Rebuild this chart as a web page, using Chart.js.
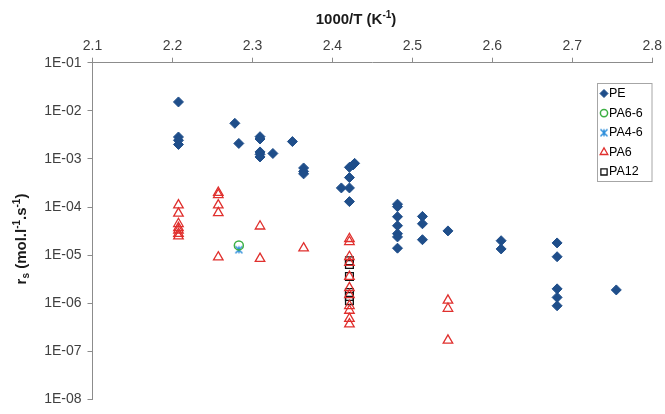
<!DOCTYPE html>
<html lang="en">
<head>
<meta charset="UTF-8">
<title>rs vs 1000/T</title>
<script src="https://cdn.jsdelivr.net/npm/chart.js"></script>
<style>
    html, body { margin: 0; padding: 0; background: #fff; }
    #wrap { width: 665px; height: 414px; }
</style>
</head>
<body>
<div id="wrap"><canvas id="chart"></canvas></div>
<script>
    // tick values
    const xTicks = [2.1, 2.2, 2.3, 2.4, 2.5, 2.6, 2.7, 2.8];
    const yTicks = [1e-1, 1e-2, 1e-3, 1e-4, 1e-5, 1e-6, 1e-7, 1e-8];

    const seriesNames = ['PE', 'PA6-6', 'PA4-6', 'PA6', 'PA12'];

    // PE
    const peX = [2.2075, 2.2075, 2.2075, 2.2075, 2.278, 2.283,
                 2.3095, 2.3095, 2.3095, 2.3095, 2.3095, 2.3256, 2.35,
                 2.364, 2.364, 2.364,
                 2.4213, 2.4213, 2.4213, 2.4213, 2.4112, 2.4257, 2.4278,
                 2.4814, 2.4814, 2.4814, 2.4814, 2.4814, 2.4814, 2.4814,
                 2.5126, 2.5126, 2.5126, 2.5445,
                 2.611, 2.611,
                 2.681, 2.681, 2.681, 2.681, 2.681, 2.755];
    const peY = [1.53e-2, 2.86e-3, 2.44e-3, 2.0e-3, 5.5e-3, 2.1e-3,
                 2.9e-3, 2.6e-3, 1.4e-3, 1.25e-3, 1.1e-3, 1.3e-3, 2.3e-3,
                 6.5e-4, 5.5e-4, 4.9e-4,
                 6.7e-4, 4.1e-4, 2.5e-4, 1.3e-4, 2.5e-4, 7.5e-4, 8.1e-4,
                 1.15e-4, 1.02e-4, 6.3e-5, 4.1e-5, 2.8e-5, 2.4e-5, 1.4e-5,
                 6.4e-5, 4.5e-5, 2.1e-5, 3.2e-5,
                 2.0e-5, 1.35e-5,
                 1.8e-5, 9.3e-6, 2.0e-6, 1.33e-6, 8.9e-7, 1.9e-6];

    // PA6-6 and PA4-6
    const pa66X = [2.283];
    const pa66Y = [1.6e-5];
    const pa46X = [2.283];
    const pa46Y = [1.3e-5];

    // PA6
    const pa6X = [2.2075, 2.2075, 2.2075, 2.2075, 2.2075, 2.2075, 2.2075,
                  2.2573, 2.2573, 2.2573, 2.2573, 2.2573,
                  2.3095, 2.3095, 2.364,
                  2.4213, 2.4213, 2.4213, 2.4213, 2.4213, 2.4213, 2.4213, 2.4213, 2.4213, 2.4213, 2.4213,
                  2.5445, 2.5445, 2.5445];
    const pa6Y = [1.1e-4, 7.4e-5, 4.5e-5, 3.7e-5, 3.3e-5, 2.8e-5, 2.5e-5,
                  2.0e-4, 1.8e-4, 1.1e-4, 7.6e-5, 9.1e-6,
                  4.0e-5, 8.5e-6, 1.4e-5,
                  2.2e-5, 1.9e-5, 9.3e-6, 7.0e-6, 3.6e-6, 2.1e-6, 1.5e-6, 8.9e-7, 7.1e-7, 4.8e-7, 3.7e-7,
                  1.15e-6, 7.8e-7, 1.7e-7];

    // PA12
    const pa12X = [2.4213, 2.4213, 2.4213, 2.4213, 2.4213, 2.4213];
    const pa12Y = [7.7e-6, 6.4e-6, 3.6e-6, 1.68e-6, 1.39e-6, 1.14e-6];

    const FONT = '"Liberation Sans", Arial, sans-serif';

    function pts(xs, ys) {
        return xs.map((x, i) => ({ x: x, y: ys[i] }));
    }

    // Excel-like star marker: an x with a vertical stroke
    function starMarker(color, size) {
        const c = document.createElement('canvas');
        c.width = size;
        c.height = size;
        const g = c.getContext('2d');
        g.strokeStyle = color;
        g.lineWidth = 1.5;
        const m = 1.5, e = size - 1.5, h = size / 2;
        g.beginPath();
        g.moveTo(m, m); g.lineTo(e, e);
        g.moveTo(e, m); g.lineTo(m, e);
        g.moveTo(h, m); g.lineTo(h, e);
        g.stroke();
        return c;
    }

    // axis titles with sub/superscripts
    function drawRich(ctx, parts, x, y) {
        let total = 0;
        parts.forEach(p => {
            ctx.font = 'bold ' + p.s + 'px ' + FONT;
            p.w = ctx.measureText(p.t).width;
            total += p.w;
        });
        let cx = x - total / 2;
        ctx.textBaseline = 'middle';
        ctx.textAlign = 'left';
        parts.forEach(p => {
            ctx.font = 'bold ' + p.s + 'px ' + FONT;
            ctx.fillText(p.t, cx, y + (p.dy || 0));
            cx += p.w;
        });
    }

    const titlesPlugin = {
        id: 'titles',
        afterDraw(chart) {
            const ctx = chart.ctx;
            ctx.save();
            ctx.fillStyle = '#1a1a1a';
            drawRich(ctx, [
                { t: '1000/T (K', s: 15 },
                { t: '-1', s: 10, dy: -5 },
                { t: ')', s: 15 }
            ], 356, 20);
            ctx.translate(22, 239);
            ctx.rotate(-Math.PI / 2);
            drawRich(ctx, [
                { t: 'r', s: 15 },
                { t: 's', s: 10, dy: 4 },
                { t: ' (mol.l', s: 15 },
                { t: '-1', s: 10, dy: -5 },
                { t: '.s', s: 15 },
                { t: '-1', s: 10, dy: -5 },
                { t: ')', s: 15 }
            ], 0, 0);
            ctx.restore();
        }
    };

    // boxed legend inside the plot, top right
    const legendPlugin = {
        id: 'boxLegend',
        afterDraw(chart) {
            const ctx = chart.ctx;
            ctx.save();
            ctx.fillStyle = '#fff';
            ctx.strokeStyle = '#a6a6a6';
            ctx.lineWidth = 1;
            ctx.fillRect(597.5, 83.5, 54.5, 98);
            ctx.strokeRect(597.5, 83.5, 54.5, 98);
            chart.data.datasets.forEach((ds, i) => {
                const y = 93.5 + i * 19.6;
                ctx.fillStyle = ds.backgroundColor;
                ctx.strokeStyle = ds.borderColor;
                ctx.lineWidth = ds.borderWidth;
                Chart.helpers.drawPoint(ctx, {
                    pointStyle: ds.pointStyle,
                    radius: ds.pointRadius * 0.8,
                    borderWidth: ds.borderWidth,
                    rotation: 0
                }, 604, y);
                ctx.fillStyle = '#000';
                ctx.font = '12.5px ' + FONT;
                ctx.textAlign = 'left';
                ctx.textBaseline = 'middle';
                ctx.fillText(ds.label, 609, y);
            });
            ctx.restore();
        }
    };

    const axisColor = '#8c8c8c';

    new Chart(document.getElementById('chart').getContext('2d'), {
        type: 'scatter',
        data: {
            datasets: [
                { label: seriesNames[0], data: pts(peX, peY), pointStyle: 'rectRot', pointRadius: 5,
                  backgroundColor: '#1F4E8A', borderColor: '#1F4E8A', borderWidth: 1 },
                { label: seriesNames[1], data: pts(pa66X, pa66Y), pointStyle: 'circle', pointRadius: 4.5,
                  backgroundColor: 'rgba(0,0,0,0)', borderColor: '#3DB044', borderWidth: 1.5 },
                { label: seriesNames[2], data: pts(pa46X, pa46Y), pointStyle: starMarker('#2F8FDB', 10), pointRadius: 4.5,
                  backgroundColor: 'rgba(0,0,0,0)', borderColor: '#2F8FDB', borderWidth: 1.5 },
                { label: seriesNames[3], data: pts(pa6X, pa6Y), pointStyle: 'triangle', pointRadius: 5.5,
                  backgroundColor: 'rgba(0,0,0,0)', borderColor: '#E0302E', borderWidth: 1.3 },
                { label: seriesNames[4], data: pts(pa12X, pa12Y), pointStyle: 'rect', pointRadius: 5.5,
                  backgroundColor: 'rgba(0,0,0,0)', borderColor: '#111111', borderWidth: 1.3 }
            ]
        },
        options: {
            responsive: true,
            maintainAspectRatio: false,
            animation: false,
            layout: { padding: { left: 0, right: 12, top: 0, bottom: 8 } },
            plugins: {
                legend: { display: false },
                tooltip: { enabled: false }
            },
            scales: {
                x: {
                    type: 'linear',
                    position: 'top',
                    min: 2.1,
                    max: 2.8,
                    afterBuildTicks: s => { s.ticks = xTicks.map(v => ({ value: v })); },
                    afterFit: s => { s.height = 62.7; },
                    ticks: {
                        callback: v => v.toFixed(1),
                        font: { size: 14, family: FONT },
                        color: '#404040',
                        padding: 3,
                        maxRotation: 0
                    },
                    grid: { drawOnChartArea: false, drawTicks: true, tickLength: 5, color: axisColor },
                    border: { color: axisColor }
                },
                y: {
                    type: 'logarithmic',
                    min: 1e-8,
                    max: 1e-1,
                    afterBuildTicks: s => { s.ticks = yTicks.map(v => ({ value: v })); },
                    afterFit: s => { s.width = 92.5; },
                    ticks: {
                        callback: v => '1E-' + String(Math.round(-Math.log10(v))).padStart(2, '0'),
                        font: { size: 14, family: FONT },
                        color: '#404040',
                        padding: 6
                    },
                    grid: { drawOnChartArea: false, drawTicks: true, tickLength: 5, color: axisColor },
                    border: { color: axisColor }
                }
            }
        },
        plugins: [titlesPlugin, legendPlugin]
    });
</script>
</body>
</html>
